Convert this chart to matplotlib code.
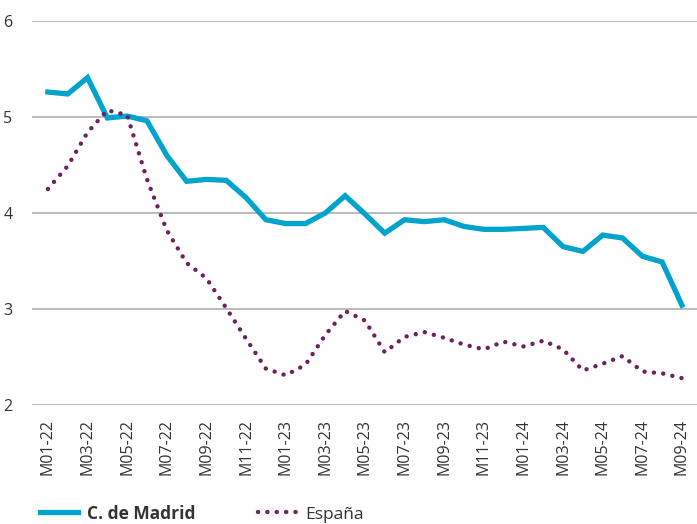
import numpy as np
import matplotlib.pyplot as plt

plt.rcParams['font.family'] = ['Open Sans', 'DejaVu Sans']

months = [f"M{m:02d}-{y}" for y in (22, 23, 24) for m in range(1, 13)][:33]

madrid = [5.26, 5.24, 5.41, 4.99, 5.01, 4.96, 4.60, 4.33, 4.35, 4.34, 4.16, 3.93,
          3.89, 3.89, 4.00, 4.18, 3.99, 3.79, 3.93, 3.91, 3.93, 3.86, 3.83, 3.83,
          3.84, 3.85, 3.65, 3.60, 3.77, 3.74, 3.55, 3.49, 3.04]

espana = [4.25, 4.49, 4.84, 5.07, 5.02, 4.35, 3.82, 3.48, 3.32, 3.01, 2.69, 2.38,
          2.31, 2.42, 2.73, 2.98, 2.88, 2.55, 2.71, 2.76, 2.70, 2.63, 2.58, 2.66,
          2.61, 2.67, 2.58, 2.36, 2.43, 2.51, 2.35, 2.33, 2.28]

blue = '#00a3cc'
purple = '#6d2160'

fig = plt.figure(figsize=(6.97, 5.24), dpi=100)
ax = fig.add_axes([0.046, 0.227, 0.954, 0.733])

x = np.arange(len(months))
ax.plot(x, madrid, color=blue, lw=3.8, solid_joinstyle='miter', label='C. de Madrid')
ax.plot(x, espana, color=purple, lw=3.2, linestyle=(0, (0.01, 2.1)),
        dash_capstyle='round', label='España')

ax.set_ylim(2, 6)
ax.set_xlim(-0.8, 32.76)
ax.set_yticks([2, 3, 4, 5, 6])
ax.set_xticks(x[::2])
ax.set_xticklabels(months[::2], rotation=90)
ax.grid(axis='y', color='#b5b5b5', lw=1.3)
ax.set_axisbelow(True)
for s in ax.spines.values():
    s.set_visible(False)
ax.tick_params(length=0, labelsize=11.5, colors='#333333')
ax.tick_params(axis='y', pad=14)
ax.tick_params(axis='x', pad=10)

leg = fig.legend(loc='center left', bbox_to_anchor=(0.035, 0.02), ncol=2,
                 frameon=False, fontsize=12.5, handlelength=2.2,
                 handletextpad=0.5, columnspacing=3.6)
leg.get_texts()[0].set_fontweight('bold')
for t in leg.get_texts():
    t.set_color('#333333')

fig.savefig('out.png', dpi=100)
